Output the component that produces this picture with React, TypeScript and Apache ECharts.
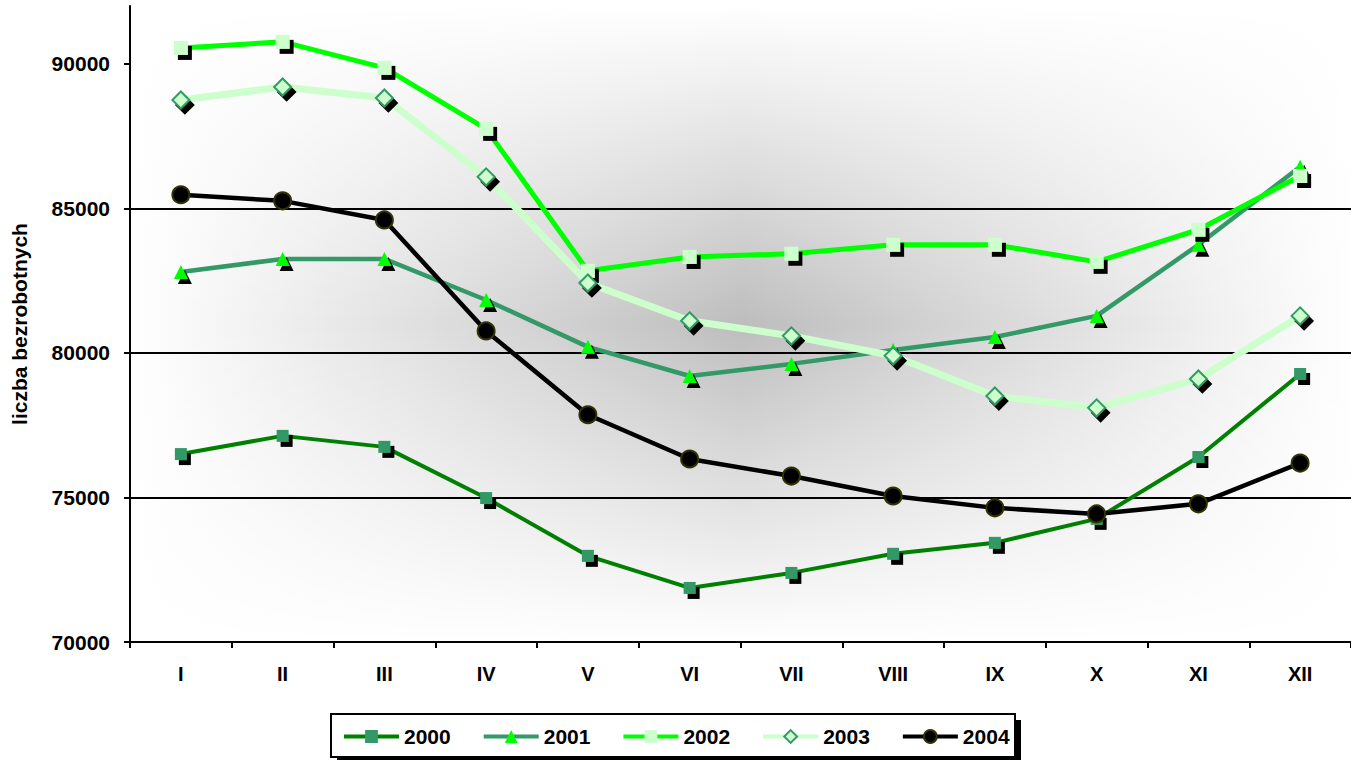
import React, { useEffect, useRef } from "react";
import * as echarts from "echarts";

const months = ["I", "II", "III", "IV", "V", "VI", "VII", "VIII", "IX", "X", "XI", "XII"];
const yTicks = [70000, 75000, 80000, 85000, 90000];

const s2000 = [76500, 77130, 76750, 74980, 72980, 71870, 72390, 73050, 73430, 74260, 76400, 79270];
const s2001 = [82800, 83250, 83250, 81830, 80210, 79200, 79620, 80100, 80550, 81280, 83740, 86440];
const s2002 = [90550, 90760, 89860, 87750, 82840, 83320, 83430, 83740, 83740, 83150, 84260, 86120];
const s2003 = [88750, 89200, 88820, 86090, 82420, 81110, 80590, 79900, 78510, 78100, 79100, 81280];
const s2004 = [85470, 85260, 84600, 80760, 77860, 76330, 75740, 75050, 74640, 74430, 74780, 76190];

const FONT = "'Liberation Sans', Arial, sans-serif";

const shadow = { shadowColor: "#000000", shadowBlur: 0, shadowOffsetX: 4, shadowOffsetY: 5 };

export default function App() {
  const ref = useRef<HTMLDivElement>(null);
  useEffect(() => {
    if (!ref.current) return;
    const chart = echarts.init(ref.current, undefined, { renderer: "svg" });
    const plot = { x: 130, y: 6, w: 1225, h: 636 };
    chart.setOption({
      animation: false,
      backgroundColor: "#ffffff",
      textStyle: { fontFamily: FONT },
      grid: { left: plot.x, top: plot.y, width: plot.w, height: plot.h, containLabel: false },
      graphic: [
        {
          type: "rect",
          z: -100,
          shape: { x: plot.x, y: plot.y, width: plot.w, height: plot.h },
          style: {
            fill: new echarts.graphic.LinearGradient(0, 0, 1, 0, [
              { offset: 0, color: "#ffffff" },
              { offset: 0.5, color: "#bdbdbd" },
              { offset: 1, color: "#ffffff" },
            ]),
          },
          silent: true,
        },
        {
          type: "rect",
          z: -99,
          shape: { x: plot.x, y: plot.y, width: plot.w, height: plot.h },
          style: {
            fill: new echarts.graphic.LinearGradient(0, 0, 0, 1, [
              { offset: 0, color: "rgba(255,255,255,1)" },
              { offset: 0.5, color: "rgba(255,255,255,0)" },
              { offset: 1, color: "rgba(255,255,255,1)" },
            ]),
          },
          silent: true,
        },
        {
          type: "rect",
          z: 1,
          shape: { x: 337, y: 720, width: 684, height: 43 },
          style: { fill: "#000000" },
          silent: true,
        },
        {
          type: "rect",
          z: 2,
          shape: { x: 331, y: 714, width: 684, height: 43 },
          style: { fill: "#ffffff", stroke: "#000000", lineWidth: 2 },
          silent: true,
        },
      ],
      legend: {
        left: 337,
        top: 721,
        itemWidth: 55,
        itemHeight: 16,
        itemGap: 31,
        z: 5,
        textStyle: { fontSize: 21, fontWeight: "bold", color: "#000000", fontFamily: FONT },
        lineStyle: { width: 4 },
        itemStyle: { shadowBlur: 0, shadowOffsetX: 0, shadowOffsetY: 0, shadowColor: "rgba(0,0,0,0)" },
        data: ["2000", "2001", "2002", "2003", "2004"],
      },
      xAxis: {
        type: "category",
        data: months,
        boundaryGap: true,
        axisLine: { show: true, lineStyle: { color: "#000000", width: 2 } },
        axisTick: { show: true, length: 6, lineStyle: { color: "#000000", width: 2 } },
        axisLabel: { fontSize: 20, fontWeight: "bold", color: "#000000", margin: 22, fontFamily: FONT },
        splitLine: { show: false },
      },
      yAxis: {
        type: "value",
        min: 70000,
        max: 92000,
        interval: 5000,
        name: "liczba bezrobotnych",
        nameLocation: "middle",
        nameRotate: 90,
        nameGap: 100,
        nameTextStyle: { fontSize: 21, fontWeight: "bold", color: "#000000", fontFamily: FONT },
        axisLine: { show: true, lineStyle: { color: "#000000", width: 2 } },
        axisTick: { show: true, length: 6, customValues: yTicks, lineStyle: { color: "#000000", width: 2 } },
        axisLabel: {
          fontSize: 21,
          fontWeight: "bold",
          color: "#000000",
          margin: 20,
          showMaxLabel: false,
          fontFamily: FONT,
          formatter: (v: number) => (v % 5000 === 0 ? String(v) : ""),
        },
        splitLine: { show: true, showMaxLine: false, showMinLine: false, lineStyle: { color: "#000000", width: 2 } },
      },
      series: [
        {
          name: "2000",
          type: "line",
          data: s2000,
          symbol: "rect",
          symbolSize: 12,
          lineStyle: { color: "#008000", width: 4 },
          itemStyle: { color: "#339966", ...shadow },
        },
        {
          name: "2001",
          type: "line",
          data: s2001,
          symbol: "triangle",
          symbolSize: 14,
          lineStyle: { color: "#339966", width: 4.5 },
          itemStyle: { color: "#00ff00", ...shadow },
        },
        {
          name: "2002",
          type: "line",
          data: s2002,
          symbol: "rect",
          symbolSize: 14,
          lineStyle: { color: "#00ff00", width: 5 },
          itemStyle: { color: "#ccffcc", ...shadow },
        },
        {
          name: "2003",
          type: "line",
          data: s2003,
          symbol: "diamond",
          symbolSize: 17,
          lineStyle: { color: "#ccffcc", width: 7 },
          itemStyle: { color: "#ccffcc", borderColor: "#339966", borderWidth: 2, ...shadow },
        },
        {
          name: "2004",
          type: "line",
          data: s2004,
          symbol: "circle",
          symbolSize: 17,
          lineStyle: { color: "#000000", width: 4.5 },
          itemStyle: { color: "#000000", borderColor: "#333300", borderWidth: 2 },
        },
      ],
    });
    return () => chart.dispose();
  }, []);
  return (
    <div
      ref={ref}
      style={{ position: "absolute", left: 0, top: 0, width: 1351, height: 760, overflow: "hidden" }}
    />
  );
}
